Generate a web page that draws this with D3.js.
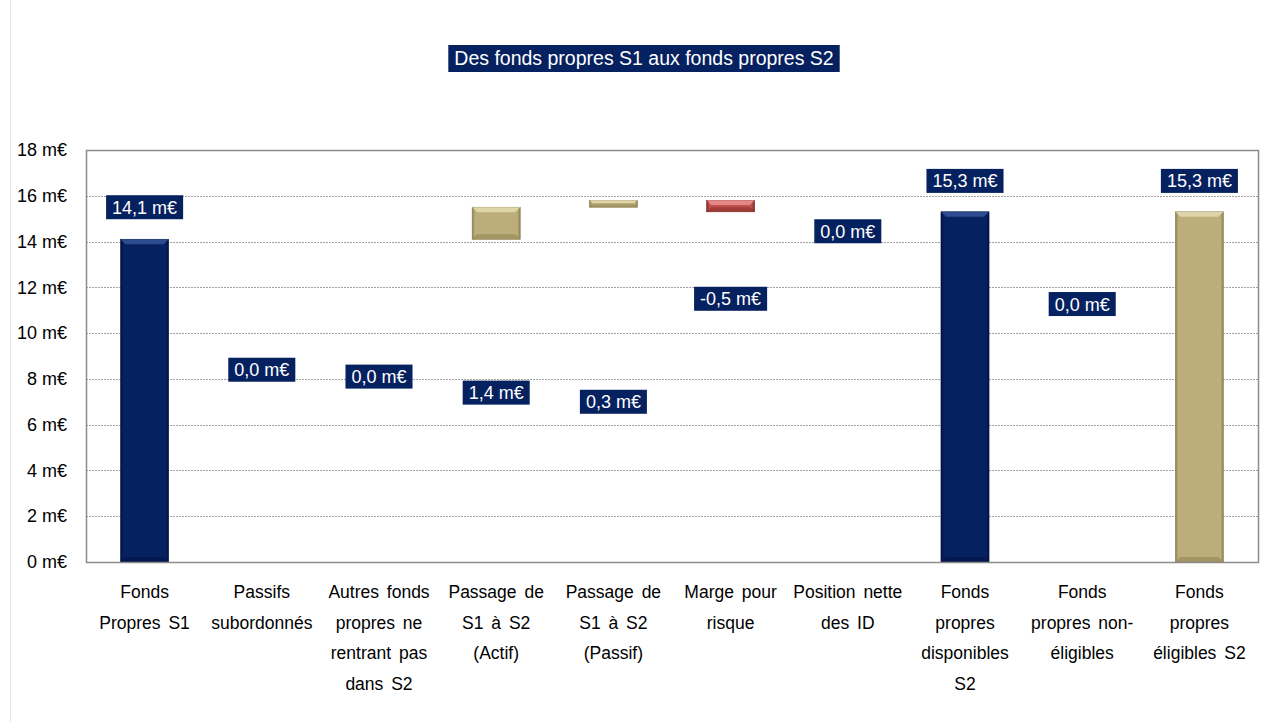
<!DOCTYPE html>
<html>
<head>
<meta charset="utf-8">
<script src="https://cdn.jsdelivr.net/npm/d3@7"></script>
<style>
  body { margin: 0; background: #fff; }
  text { font-family: "Liberation Sans", Arial, sans-serif; }
</style>
</head>
<body>
<div id="chart"></div>
<script>
// categories (lines of each axis label)
const categories = [
  ["Fonds", "Propres S1"],
  ["Passifs", "subordonnés"],
  ["Autres fonds", "propres ne", "rentrant pas", "dans S2"],
  ["Passage de", "S1 à S2", "(Actif)"],
  ["Passage de", "S1 à S2", "(Passif)"],
  ["Marge pour", "risque"],
  ["Position nette", "des ID"],
  ["Fonds", "propres", "disponibles", "S2"],
  ["Fonds", "propres non-", "éligibles"],
  ["Fonds", "propres", "éligibles S2"]
];
// step values (m€) and whether the step is a total bar
const values  = [14.1, 0.0, 0.0, 1.4, 0.3, -0.5, 0.0, 15.3, 0.0, 15.3];
const isTotal = [true, false, false, false, false, false, false, true, false, true];
const kinds   = ["navy", "navy", "navy", "khaki", "khaki", "red", "navy", "navy", "navy", "khaki"];
// where Excel put the value labels (m€ on the y axis)
const labelAt = [15.5, 8.4, 8.1, 7.4, 7.0, 11.5, 14.45, 16.65, 11.27, 16.65];
const yTicks  = [0, 2, 4, 6, 8, 10, 12, 14, 16, 18];
const title = "Des fonds propres S1 aux fonds propres S2";

const W = 1269, H = 722;
const m = {left: 86, right: 11, top: 150, bottom: 160};

const svg = d3.select("#chart").append("svg")
  .attr("width", W).attr("height", H);

const defs = svg.append("defs");
const palette = {
  navy:  {base: "#06215f", light: "#3b5aa0", dark: "#021040"},
  khaki: {base: "#bbae7b", light: "#e8e0b8", dark: "#8a7e50"},
  red:   {base: "#c0504d", light: "#f09a98", dark: "#7d2826"}
};
Object.entries(palette).forEach(([k, c]) => {
  const g = defs.append("linearGradient").attr("id", "g-" + k)
    .attr("x1", 0).attr("x2", 1).attr("y1", 0).attr("y2", 0);
  g.append("stop").attr("offset", "0%").attr("stop-color", c.dark);
  g.append("stop").attr("offset", "6%").attr("stop-color", c.base);
  g.append("stop").attr("offset", "94%").attr("stop-color", c.base);
  g.append("stop").attr("offset", "100%").attr("stop-color", c.dark);
});

// outer chart-area edge
svg.append("line").attr("x1", 10.5).attr("x2", 10.5).attr("y1", 0).attr("y2", H)
  .attr("stroke", "#e6e6e6");

const x = d3.scaleBand()
  .domain(d3.range(categories.length))
  .range([m.left, W - m.right])
  .paddingInner(0.59).paddingOuter(0.295);

const y = d3.scaleLinear().domain([0, 18]).range([H - m.bottom, m.top]);

// grid
svg.append("g").selectAll("line").data(yTicks.slice(1, -1)).join("line")
  .attr("x1", m.left).attr("x2", W - m.right)
  .attr("y1", d => Math.round(y(d)) + 0.5).attr("y2", d => Math.round(y(d)) + 0.5)
  .attr("stroke", "#a0a0a0").attr("stroke-dasharray", "2,1");

// y axis labels
const yAxis = svg.append("g").attr("transform", `translate(${m.left},0)`)
  .call(d3.axisLeft(y).tickValues(yTicks).tickSize(0).tickPadding(19)
    .tickFormat(d => d + " m€"));
yAxis.select(".domain").remove();
yAxis.selectAll("text").attr("font-size", 18).attr("fill", "#000")
  .attr("font-family", "Liberation Sans, Arial, sans-serif");

// waterfall bars
let run = 0;
const bars = values.map((v, i) => {
  let lo, hi;
  if (isTotal[i]) { lo = 0; hi = v; run = v; }
  else { lo = Math.min(run, run + v); hi = Math.max(run, run + v); run += v; }
  return {i, v, lo, hi, kind: kinds[i]};
}).filter(d => Math.abs(d.v) > 1e-9);

const bw = x.bandwidth();
const bg = svg.append("g").selectAll("g").data(bars).join("g")
  .attr("transform", d => `translate(${x(d.i)},${y(d.hi)})`);
bg.append("rect")
  .attr("width", bw).attr("height", d => y(d.lo) - y(d.hi))
  .attr("fill", d => `url(#g-${d.kind})`)
  .attr("stroke", d => palette[d.kind].dark).attr("stroke-width", 0.6);
// bevel on top and bottom
bg.append("path")
  .attr("d", d => {
    const h = y(d.lo) - y(d.hi), b = Math.min(5, h / 2.5);
    return `M0,0H${bw}L${bw - b},${b}H${b}Z`;
  })
  .attr("fill", d => palette[d.kind].light).attr("opacity", 0.75);
bg.append("path")
  .attr("d", d => {
    const h = y(d.lo) - y(d.hi), b = Math.min(5, h / 2.5);
    return `M0,${h}H${bw}L${bw - b},${h - b}H${b}Z`;
  })
  .attr("fill", d => palette[d.kind].dark).attr("opacity", 0.5);

// plot frame
svg.append("rect")
  .attr("x", m.left + 0.5).attr("y", m.top + 0.5)
  .attr("width", W - m.left - m.right).attr("height", H - m.top - m.bottom)
  .attr("fill", "none").attr("stroke", "#8c8c8c").attr("stroke-width", 1.5);

// value labels
const fmt = v => d3.format(".1f")(v).replace(".", ",").replace("−", "-") + " m€";
const lg = svg.append("g").selectAll("g").data(values).join("g")
  .attr("transform", (d, i) => `translate(${x(i) + bw / 2},${y(labelAt[i])})`);
lg.append("rect").attr("fill", "#06215f");
lg.append("text").text(d => fmt(d))
  .attr("text-anchor", "middle").attr("dy", "0.36em")
  .attr("font-size", 18).attr("fill", "#fff");
lg.each(function() {
  const t = d3.select(this).select("text").node().getComputedTextLength();
  d3.select(this).select("rect")
    .attr("x", -t / 2 - 6).attr("y", -12).attr("width", t + 12).attr("height", 24);
});

// category labels
const cg = svg.append("g").selectAll("text").data(categories).join("text")
  .attr("x", (d, i) => x(i) + bw / 2).attr("y", 598)
  .attr("text-anchor", "middle").attr("font-size", 17.5).attr("fill", "#000")
  .attr("word-spacing", 3);
cg.selectAll("tspan").data(d => d).join("tspan")
  .attr("x", function() { return this.parentNode.getAttribute("x"); })
  .attr("dy", (d, j) => j ? 30.7 : 0)
  .text(d => d);

// title
const tg = svg.append("g").attr("transform", `translate(644,58)`);
const tt = tg.append("text").text(title).attr("text-anchor", "middle")
  .attr("dy", "0.36em").attr("font-size", 19.5).attr("fill", "#fff");
const tw = tt.node().getComputedTextLength();
tg.insert("rect", "text").attr("x", -tw / 2 - 6).attr("y", -13)
  .attr("width", tw + 12).attr("height", 27).attr("fill", "#06215f");
</script>
</body>
</html>
